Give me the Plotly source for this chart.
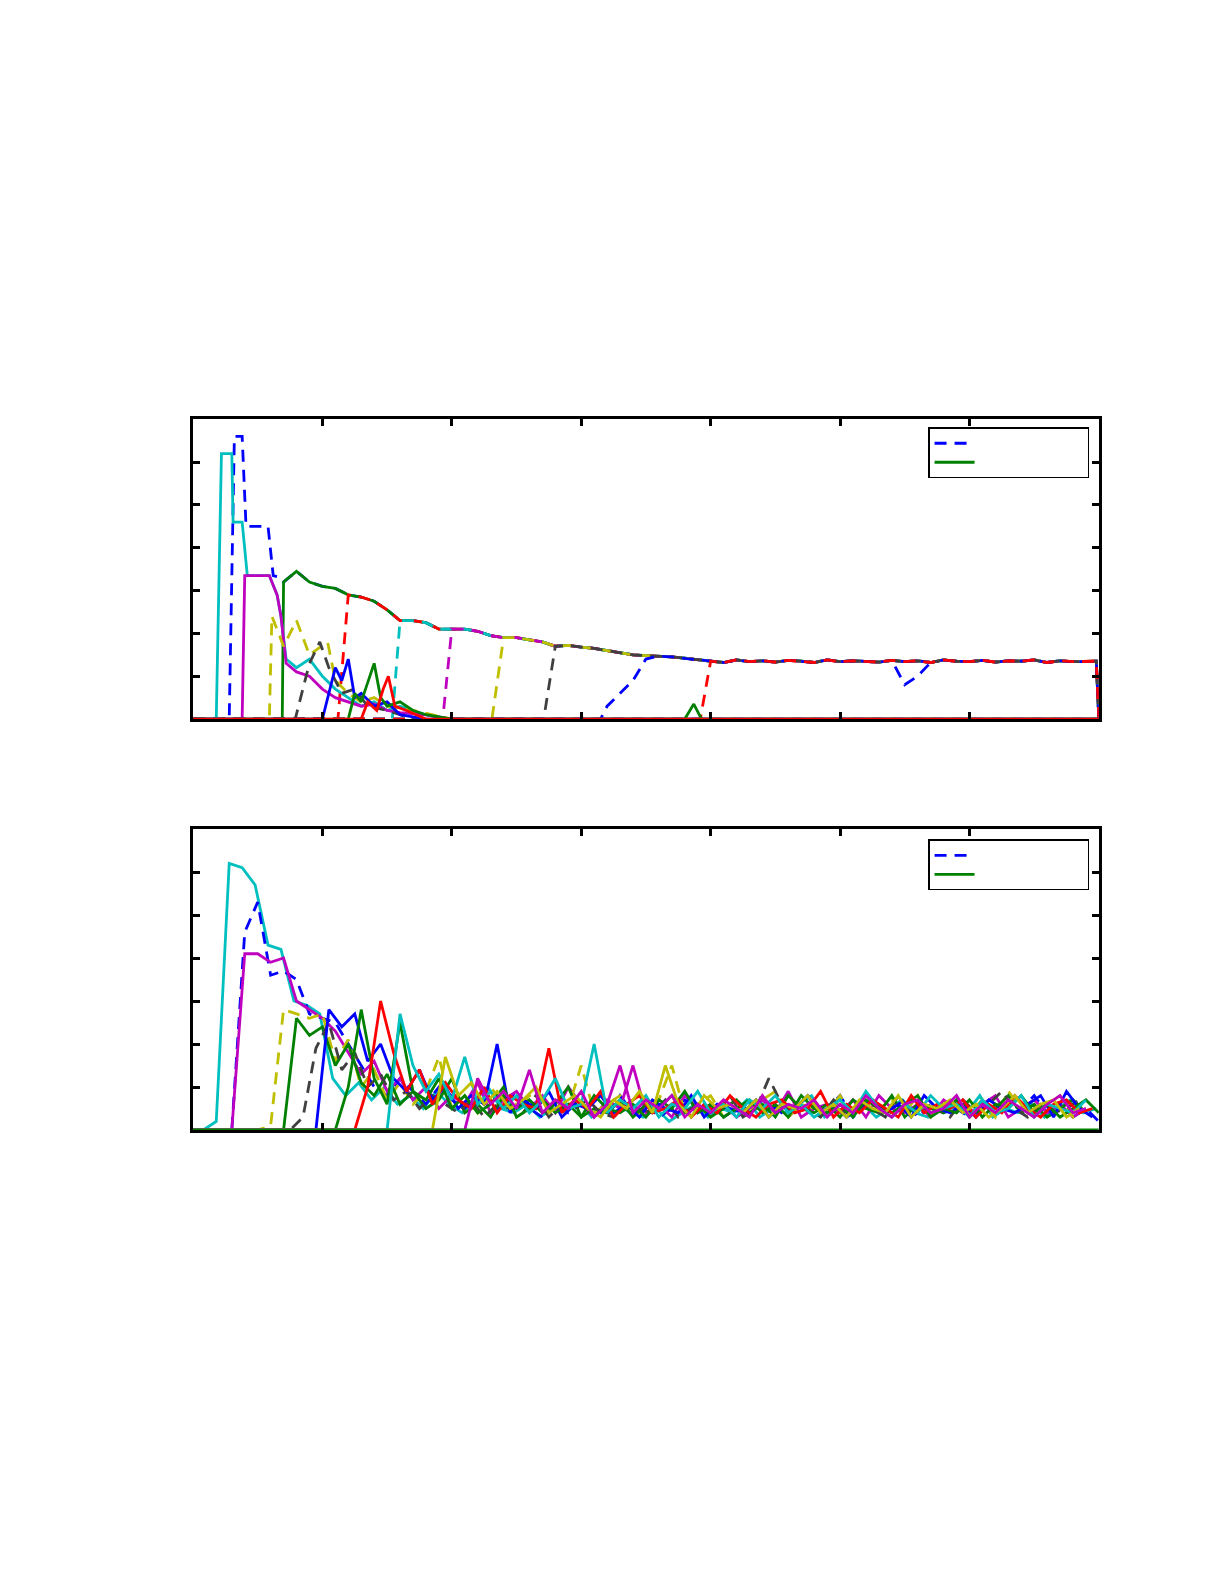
import plotly.graph_objects as go

C = dict(b="#0000ff", g="#008000", r="#ff0000", c="#00bfbf", m="#bf00bf", y="#bfbf00", k="#404040")

# ---------------- Panel 1 data ----------------
ENV_X = list(range(7, 70)) + [69.8, 70]
ENV_Y = [3.2, 3.45, 3.2, 3.1, 3.05, 2.9, 2.85, 2.75, 2.55, 2.3, 2.3, 2.25, 2.1, 2.1, 2.1,
         2.05, 1.95, 1.9, 1.9, 1.85, 1.8, 1.7, 1.72, 1.68, 1.65, 1.6, 1.55, 1.5, 1.48, 1.47,
         1.45, 1.42, 1.38,
         1.35, 1.32, 1.38, 1.34, 1.36, 1.33, 1.37, 1.35, 1.32, 1.38, 1.34, 1.36, 1.35, 1.33, 1.37,
         1.34, 1.36, 1.32, 1.38, 1.35, 1.34, 1.37, 1.33, 1.36, 1.35, 1.38, 1.32, 1.36, 1.34, 1.35,
         1.35, 0]

# series that sit at zero then join the common level: (colour, dash, pre-x, pre-y)
JOIN_SERIES = [
    ("b", "dash", [0, 2.8, 3.2, 3.8, 4.1, 5.8, 6.2, 6.8], [0, 0, 6.6, 6.6, 4.5, 4.5, 3.35, 3.3]),
    ("g", "solid", [0, 6.9], [0, 0]),
    ("r", "dash", [0, 11.2], [0, 0]),
    ("c", "dash", [0, 15.4], [0, 0]),
    ("m", "dash", [0, 19.3], [0, 0]),
    ("y", "dash", [0, 23.1], [0, 0]),
    ("k", "dash", [0, 27.1], [0, 0]),
    ("b", "dash", [0, 31.5, 32, 33, 34, 35], [0, 0, 0.3, 0.6, 0.9, 1.4]),
    ("r", "dash", [0, 39.2], [0, 0]),
]
BLUE_DIP_X = [55, 56]
BLUE_DIP_Y = [0.8, 1.0]

TRANSIENTS1 = [
    ("c", "solid", [0, 1.8, 2.2, 3.0, 3.1, 3.8, 4.2, 5.9, 6.5, 6.8, 7.2, 8, 9, 10, 11, 12, 13, 14, 15, 16, 18, 20, 70],
     [0, 0, 6.2, 6.2, 4.6, 4.6, 3.35, 3.35, 2.9, 2.4, 1.4, 1.2, 1.4, 1.0, 0.7, 0.5, 0.3, 0.4, 0.2, 0.3, 0.1, 0, 0]),
    ("m", "solid", [0, 3.8, 4.0, 5.9, 6.5, 6.8, 7.2, 8, 9, 10, 11, 12, 13, 14, 15, 16, 18, 20, 70],
     [0, 0, 3.35, 3.35, 2.9, 2.4, 1.3, 1.1, 1.0, 0.7, 0.5, 0.4, 0.3, 0.35, 0.2, 0.15, 0.1, 0, 0]),
    ("y", "dash", [0, 5.9, 6.1, 7, 8, 9, 10.4, 11, 12, 13, 14, 15, 17, 20, 70],
     [0, 0, 2.4, 1.7, 2.3, 1.5, 1.8, 0.9, 0.6, 0.4, 0.5, 0.3, 0.2, 0, 0]),
    ("k", "dash", [0, 7.9, 9, 9.8, 10.5, 11.5, 12.5, 13.5, 15, 17, 70],
     [0, 0, 1.3, 1.8, 1.2, 0.6, 0.7, 0.3, 0.2, 0, 0]),
    ("b", "solid", [0, 10, 11, 11.5, 12, 12.5, 13, 14, 15, 16, 18, 70],
     [0, 0, 1.2, 0.9, 1.4, 0.5, 0.6, 0.3, 0.4, 0.1, 0, 0]),
    ("g", "solid", [0, 12, 12.5, 13, 14, 14.5, 15, 16, 17, 18, 20, 38, 38.7, 39.3, 70],
     [0, 0, 0.6, 0.4, 1.3, 0.5, 0.3, 0.4, 0.2, 0.1, 0, 0, 0.35, 0, 0]),
    ("r", "solid", [0, 13, 13.5, 14.2, 14.7, 15.1, 15.6, 16.5, 18, 70],
     [0, 0, 0.4, 0.2, 0.7, 1.0, 0.3, 0.2, 0, 0]),
]

# ---------------- Panel 2 data (start x, values at unit steps) ----------------
P2 = [
    ("c", "solid", 0.8, [0, 0.2, 6.2, 6.1, 5.7, 4.3, 4.2, 3.0, 2.9, 2.7, 1.2, 0.8, 1.1, 0.7, 1.0, 0.6, 0.8, 0.5, 0.9, 0.6,
                         0.4, 0.7, 1.0, 0.5, 0.4, 0.6, 0.3, 0.5, 0.4, 0.7, 0.3, 0.5, 0.6, 0.4, 0.3, 0.5, 0.2, 0.4, 0.6, 0.3,
                         0.5, 0.4, 0.7, 0.3, 0.5, 0.4, 0.6, 0.8, 0.3, 0.5, 0.4, 0.6, 0.3, 0.5, 0.7, 0.4, 0.3, 0.6, 0.5, 0.4,
                         0.8, 0.3, 0.5, 0.4, 0.6, 0.3, 0.5, 0.7, 0.4, 0.5]),
    ("b", "dash", 2.0, [0, 0, 4.6, 5.3, 3.6, 3.7, 3.5, 2.7, 2.6, 2.5, 2.0, 1.5, 1.0, 0.8, 1.2, 0.9, 0.6, 1.0, 0.7, 0.5,
                        0.8, 0.4, 0.6, 0.9, 0.5, 0.3, 0.7, 0.4, 0.6, 0.5, 0.3, 0.8, 0.4, 0.6, 0.3, 0.5, 0.7, 0.4, 0.6, 0.3,
                        0.5, 0.4, 0.7, 0.5, 0.3, 0.6, 0.4, 0.5, 0.8, 0.3, 0.6, 0.4, 0.5, 0.7, 0.3, 0.6, 0.4, 0.5, 0.3, 0.7,
                        0.4, 0.6, 0.5, 0.8, 0.4, 0.6, 0.3, 0.5, 0.2]),
    ("m", "solid", 3.0, [0, 4.1, 4.1, 3.9, 4.0, 3.0, 2.8, 2.6, 2.3, 1.8, 1.3, 1.6, 0.9, 1.2, 0.7, 1.0, 0.5, 0.8, 0.6, 1.1,
                         0.4, 0.7, 0.9, 0.5, 0.8, 0.4, 1.0, 0.6, 0.3, 0.7, 0.5, 1.5, 0.4, 0.6, 0.3, 0.8, 0.5, 0.4, 0.6, 0.3,
                         0.5, 0.7, 0.4, 0.9, 0.3, 0.5, 0.6, 0.4, 0.7, 0.3, 0.8, 0.5, 0.4, 0.6, 0.3, 0.7, 0.5, 0.4, 0.6, 0.8,
                         0.3, 0.5, 0.7, 0.4, 0.6, 0.3, 0.5]),
    ("y", "dash", 5.0, [0, 0.1, 2.8, 2.7, 2.6, 2.7, 1.6, 2.1, 1.0, 1.4, 0.7, 1.1, 0.6, 0.9, 1.7, 0.5, 0.8, 0.4, 1.0, 0.6,
                        0.5, 0.8, 0.4, 0.7, 0.5, 1.5, 0.4, 0.6, 0.8, 0.3, 0.5, 0.7, 1.5, 0.4, 0.6, 0.8, 0.3, 0.5, 0.4, 0.7,
                        0.9, 0.3, 0.6, 0.5, 0.4, 0.8, 0.3, 0.6, 0.5, 0.7, 0.4, 0.8, 0.3, 0.6, 0.5, 0.4, 0.7, 0.3, 0.9, 0.5,
                        0.4, 0.6, 0.8, 0.3, 0.5]),
    ("g", "solid", 7.0, [0, 2.6, 2.2, 2.4, 1.5, 2.0, 1.1, 0.8, 1.3, 0.6, 0.9, 0.5, 0.7, 1.2, 0.4, 0.6, 0.3, 0.8, 0.5, 0.7,
                         0.4, 0.6, 1.0, 0.3, 0.5, 0.4, 0.7, 0.3, 0.6, 0.5, 0.8, 0.4, 0.6, 0.3, 0.5, 0.7, 0.4, 0.6, 0.3, 0.8,
                         0.5, 0.4, 0.6, 0.3, 0.7, 0.5, 0.4, 0.8, 0.3, 0.6, 0.5, 0.4, 0.7, 0.3, 0.6, 0.5, 0.8, 0.4, 0.6, 0.3,
                         0.5, 0.7, 0.4]),
    ("k", "dash", 7.5, [0, 0.3, 1.9, 2.5, 1.4, 1.8, 1.0, 1.3, 0.7, 0.9, 0.5, 0.8, 0.6, 0.4, 0.7, 0.3, 0.6, 0.5, 0.4, 0.8,
                        0.3, 0.6, 0.5, 0.7, 0.4, 0.3, 0.6, 0.5, 0.4, 0.7, 0.3, 0.5, 0.6, 0.4, 0.8, 0.3, 0.5, 1.2, 0.6, 0.4,
                        0.5, 0.3, 0.7, 0.4, 0.6, 0.5, 0.3, 0.8, 0.4, 0.6, 0.5, 0.3, 0.7, 0.4, 0.6, 0.9, 0.5, 0.3, 0.6, 0.4,
                        0.5, 0.7]),
    ("b", "solid", 9.5, [0, 2.8, 2.4, 2.7, 1.6, 2.0, 1.2, 0.9, 1.4, 0.7, 1.0, 0.5, 0.8, 0.6, 2.0, 0.4, 0.7, 0.5, 0.9, 0.3,
                         0.6, 0.5, 0.8, 0.4, 0.6, 0.3, 0.7, 0.5, 0.4, 0.8, 0.3, 0.6, 0.5, 0.4, 0.7, 0.3, 0.6, 0.5, 0.8, 0.4,
                         0.6, 0.3, 0.5, 0.7, 0.4, 0.6, 0.3, 0.8, 0.5, 0.4, 0.6, 0.3, 0.7, 0.5, 0.4, 0.6, 0.8, 0.3, 0.9, 0.5,
                         0.3]),
    ("g", "solid", 11.0, [0, 1.0, 2.8, 1.2, 0.6, 2.5, 0.9, 0.7, 1.2, 0.5, 0.8, 0.4, 0.6, 1.0, 0.3, 0.5, 0.7, 0.4, 0.6, 0.3,
                          0.8, 0.5, 0.4, 0.6, 0.3, 0.7, 0.5, 0.9, 0.4, 0.6, 0.3, 0.5, 0.7, 0.4, 0.6, 0.3, 0.8, 0.5, 0.4, 0.6,
                          0.3, 0.7, 0.5, 0.4, 0.6, 0.8, 0.3, 0.5, 0.4, 0.7, 0.3, 0.6, 0.5, 0.8, 0.4, 0.6, 0.3, 0.5, 0.7, 0.4]),
    ("r", "solid", 12.5, [0, 1.0, 3.0, 1.8, 0.9, 1.4, 0.6, 1.1, 0.7, 0.5, 1.0, 0.4, 0.8, 0.6, 0.5, 1.9, 0.4, 0.7, 0.5, 0.9,
                          0.3, 0.6, 0.8, 0.4, 0.5, 0.7, 0.3, 0.6, 0.4, 0.8, 0.5, 0.3, 0.6, 0.7, 0.4, 0.5, 0.9, 0.3, 0.6, 0.4,
                          0.7, 0.5, 0.3, 0.8, 0.4, 0.6, 0.5, 0.7, 0.3, 0.6, 0.4, 0.8, 0.5, 0.3, 0.6, 0.7, 0.4, 0.5]),
    ("c", "solid", 15.0, [0, 2.7, 1.5, 0.9, 1.3, 0.7, 1.7, 0.6, 0.9, 0.5, 0.8, 0.4, 0.7, 1.2, 0.5, 0.6, 2.0, 0.4, 0.7, 0.5,
                          0.8, 0.3, 0.6, 0.5, 0.9, 0.4, 0.6, 0.3, 0.7, 0.5, 0.8, 0.4, 0.6, 0.3, 0.5, 0.7, 0.4, 0.9, 0.5, 0.3,
                          0.6, 0.4, 0.8, 0.5, 0.6, 0.3, 0.7, 0.4, 0.5, 0.8, 0.3, 0.6, 0.5, 0.4, 0.7]),
    ("y", "solid", 18.5, [0, 1.7, 0.8, 1.1, 0.6, 0.9, 0.5, 0.7, 1.0, 0.4, 0.6, 0.8, 0.5, 0.3, 0.7, 0.5, 0.9, 0.4, 1.5, 0.6,
                          0.3, 0.8, 0.5, 0.6, 0.4, 0.7, 0.3, 0.6, 0.5, 0.8, 0.4, 0.6, 0.3, 0.7, 0.5, 0.4, 0.8, 0.3, 0.6, 0.5,
                          0.7, 0.4, 0.6, 0.3, 0.5, 0.8, 0.4, 0.6, 0.7, 0.3, 0.5]),
    ("m", "solid", 21.0, [0, 1.2, 0.6, 0.9, 0.5, 1.4, 0.4, 0.7, 0.5, 0.9, 0.3, 0.6, 1.5, 0.4, 0.7, 0.5, 0.8, 0.3, 0.6, 0.4,
                          0.7, 0.5, 0.3, 0.8, 0.4, 0.6, 0.5, 0.7, 0.3, 0.6, 0.4, 0.8, 0.5, 0.3, 0.6, 0.7, 0.4, 0.5, 0.8, 0.3,
                          0.6, 0.4, 0.7, 0.5, 0.3, 0.6, 0.8, 0.4, 0.5]),
]

fig = go.Figure()
LW = 2.8
DASH = "12px,8px"

def add(x, y, col, dash, panel, legend=None):
    fig.add_trace(go.Scatter(
        x=x, y=y, mode="lines",
        line=dict(color=C[col], dash=DASH if dash == "dash" else dash, width=LW),
        xaxis="x" if panel == 1 else "x2", yaxis="y" if panel == 1 else "y2",
        showlegend=legend is not None, name=legend or "",
        legend="legend" if panel == 1 else "legend2"))

BLANK = "\u00a0" * 27
# panel 1
for i, (col, dash, px, py) in enumerate(JOIN_SERIES):
    xs = list(px) + [x for x in ENV_X if x > px[-1]]
    ys = list(py) + [y for x, y in zip(ENV_X, ENV_Y) if x > px[-1]]
    if i == 0:
        for dx, dy in zip(BLUE_DIP_X, BLUE_DIP_Y):
            ys[xs.index(dx)] = dy
    add(xs, ys, col, dash, 1)
for col, dash, x, y in TRANSIENTS1:
    add(x, y, col, dash, 1)
# panel 2
for col, dash, start, vals in P2:
    xs = [start + i for i in range(len(vals))]
    pts = [(x, v) for x, v in zip(xs, vals) if x <= 70]
    add([0] + [p[0] for p in pts], [0] + [p[1] for p in pts], col, dash, 2)
add([0, 70], [0, 0], "g", "solid", 2)

# legend entries
for p in (1, 2):
    add([None], [None], "b", "dash", p, BLANK)
    add([None], [None], "g", "solid", p, BLANK + "\u200b")

ax = dict(range=[0, 70], showgrid=False, zeroline=False, showline=True, linecolor="black", linewidth=2.5,
          mirror="ticks", ticks="inside", ticklen=7, tickwidth=2.5, tickcolor="black", dtick=10, showticklabels=False)
ay = dict(ax, range=[0, 7], dtick=1)
leg = dict(x=0.8825, xanchor="right", bgcolor="white", bordercolor="black", borderwidth=1.5,
           font=dict(family="DejaVu Sans", size=12), tracegroupgap=0, itemwidth=40)
fig.update_layout(
    width=1225, height=1585, margin=dict(l=0, r=0, t=0, b=0),
    paper_bgcolor="white", plot_bgcolor="white",
    xaxis=dict(ax, domain=[0.1510, 0.8905], anchor="y"),
    yaxis=dict(ay, domain=[0.5514, 0.7405], anchor="x"),
    xaxis2=dict(ax, domain=[0.1510, 0.8905], anchor="y2"),
    yaxis2=dict(ay, domain=[0.2921, 0.4820], anchor="x2"),
    legend=dict(leg, y=0.7355, yanchor="top"),
    legend2=dict(leg, y=0.4755, yanchor="top"),
)
fig.write_html("out.html")
